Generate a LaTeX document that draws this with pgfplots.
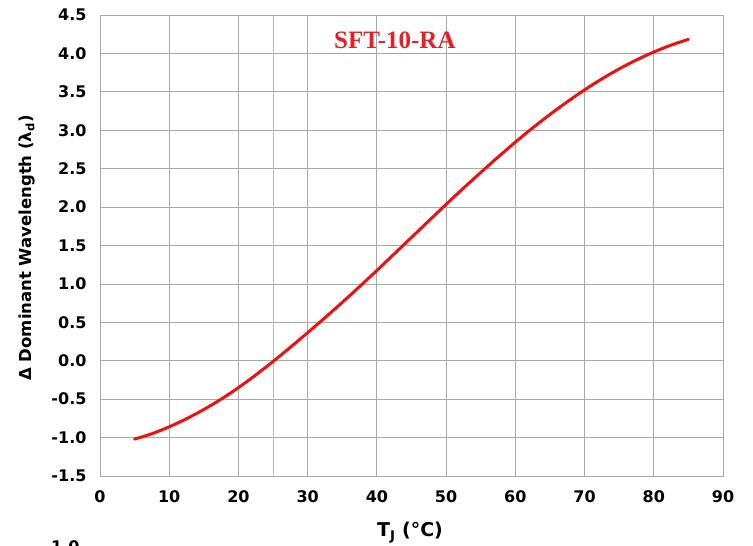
\documentclass[border=0pt]{standalone}
\usepackage{pgfplots}
\pgfplotsset{compat=1.18}
\usepackage{fontspec}
\setmainfont{DejaVu Sans}
\newfontfamily\titlefont{Liberation Serif}
\definecolor{gridgray}{RGB}{168,168,168}
\definecolor{curvered}{RGB}{238,16,16}
\definecolor{titlered}{RGB}{230,30,38}
\begin{document}
\begin{tikzpicture}
\begin{axis}[
  scale only axis,
  width=623pt, height=461pt,
  xmin=0, xmax=90, ymin=-1.5, ymax=4.5,
  xtick={0,10,...,90},
  ytick={-1.5,-1.0,...,4.5},
  extra x ticks={25},
  extra x tick labels={},
  extra x tick style={grid=major, major grid style={gridgray!80, line width=0.8pt}},
  grid=major,
  major grid style={gridgray, line width=0.8pt},
  axis line style={gridgray, line width=0.8pt},
  major tick length=0pt,
  /pgf/number format/assume math mode=true,
  yticklabel style={font=\fontsize{16}{19}\selectfont\bfseries, xshift=-10pt,
    /pgf/number format/fixed, /pgf/number format/fixed zerofill, /pgf/number format/precision=1},
  xticklabel style={font=\fontsize{16}{19}\selectfont\bfseries, yshift=-11pt},
  clip=false,
]
% T_J (degC) vs delta dominant wavelength
\addplot[curvered, line width=3pt, smooth, line cap=round] coordinates {
(5,-1.02) (7.5,-0.95) (10,-0.86) (12.5,-0.755) (15,-0.635) (17.5,-0.50)
(20,-0.35) (22.5,-0.185) (25,-0.01) (27.5,0.175) (30,0.365) (32.5,0.56)
(35,0.76) (37.5,0.965) (40,1.175) (42.5,1.39) (45,1.605) (47.5,1.82)
(50,2.035) (52.5,2.245) (55,2.45) (57.5,2.65) (60,2.845) (62.5,3.03)
(65,3.205) (67.5,3.37) (70,3.525) (72.5,3.668) (75,3.798) (77.5,3.915)
(80,4.018) (82.5,4.108) (85,4.183)};
\node[text=titlered, font=\titlefont\fontsize{25}{28}\selectfont\bfseries]
  at (axis cs:42.6,4.17) {SFT-10-RA};
\end{axis}
\node[rotate=90, font=\fontsize{16.5}{19}\selectfont\bfseries] at (-73pt,228pt)
  {Δ Dominant Wavelength (λ\textsubscript{d})};
\node[anchor=north, font=\fontsize{19}{22}\selectfont\bfseries] at (310pt,-43pt)
  {T\textsubscript{J} (°C)};
% cut-off label of the next chart below
\node[anchor=north, font=\fontsize{16}{19}\selectfont\bfseries] at (-38pt,-61pt) {-1.0};
\pgfresetboundingbox
\path[use as bounding box] (-100pt,-70pt) rectangle (653pt,476pt);
\end{tikzpicture}
\end{document}
